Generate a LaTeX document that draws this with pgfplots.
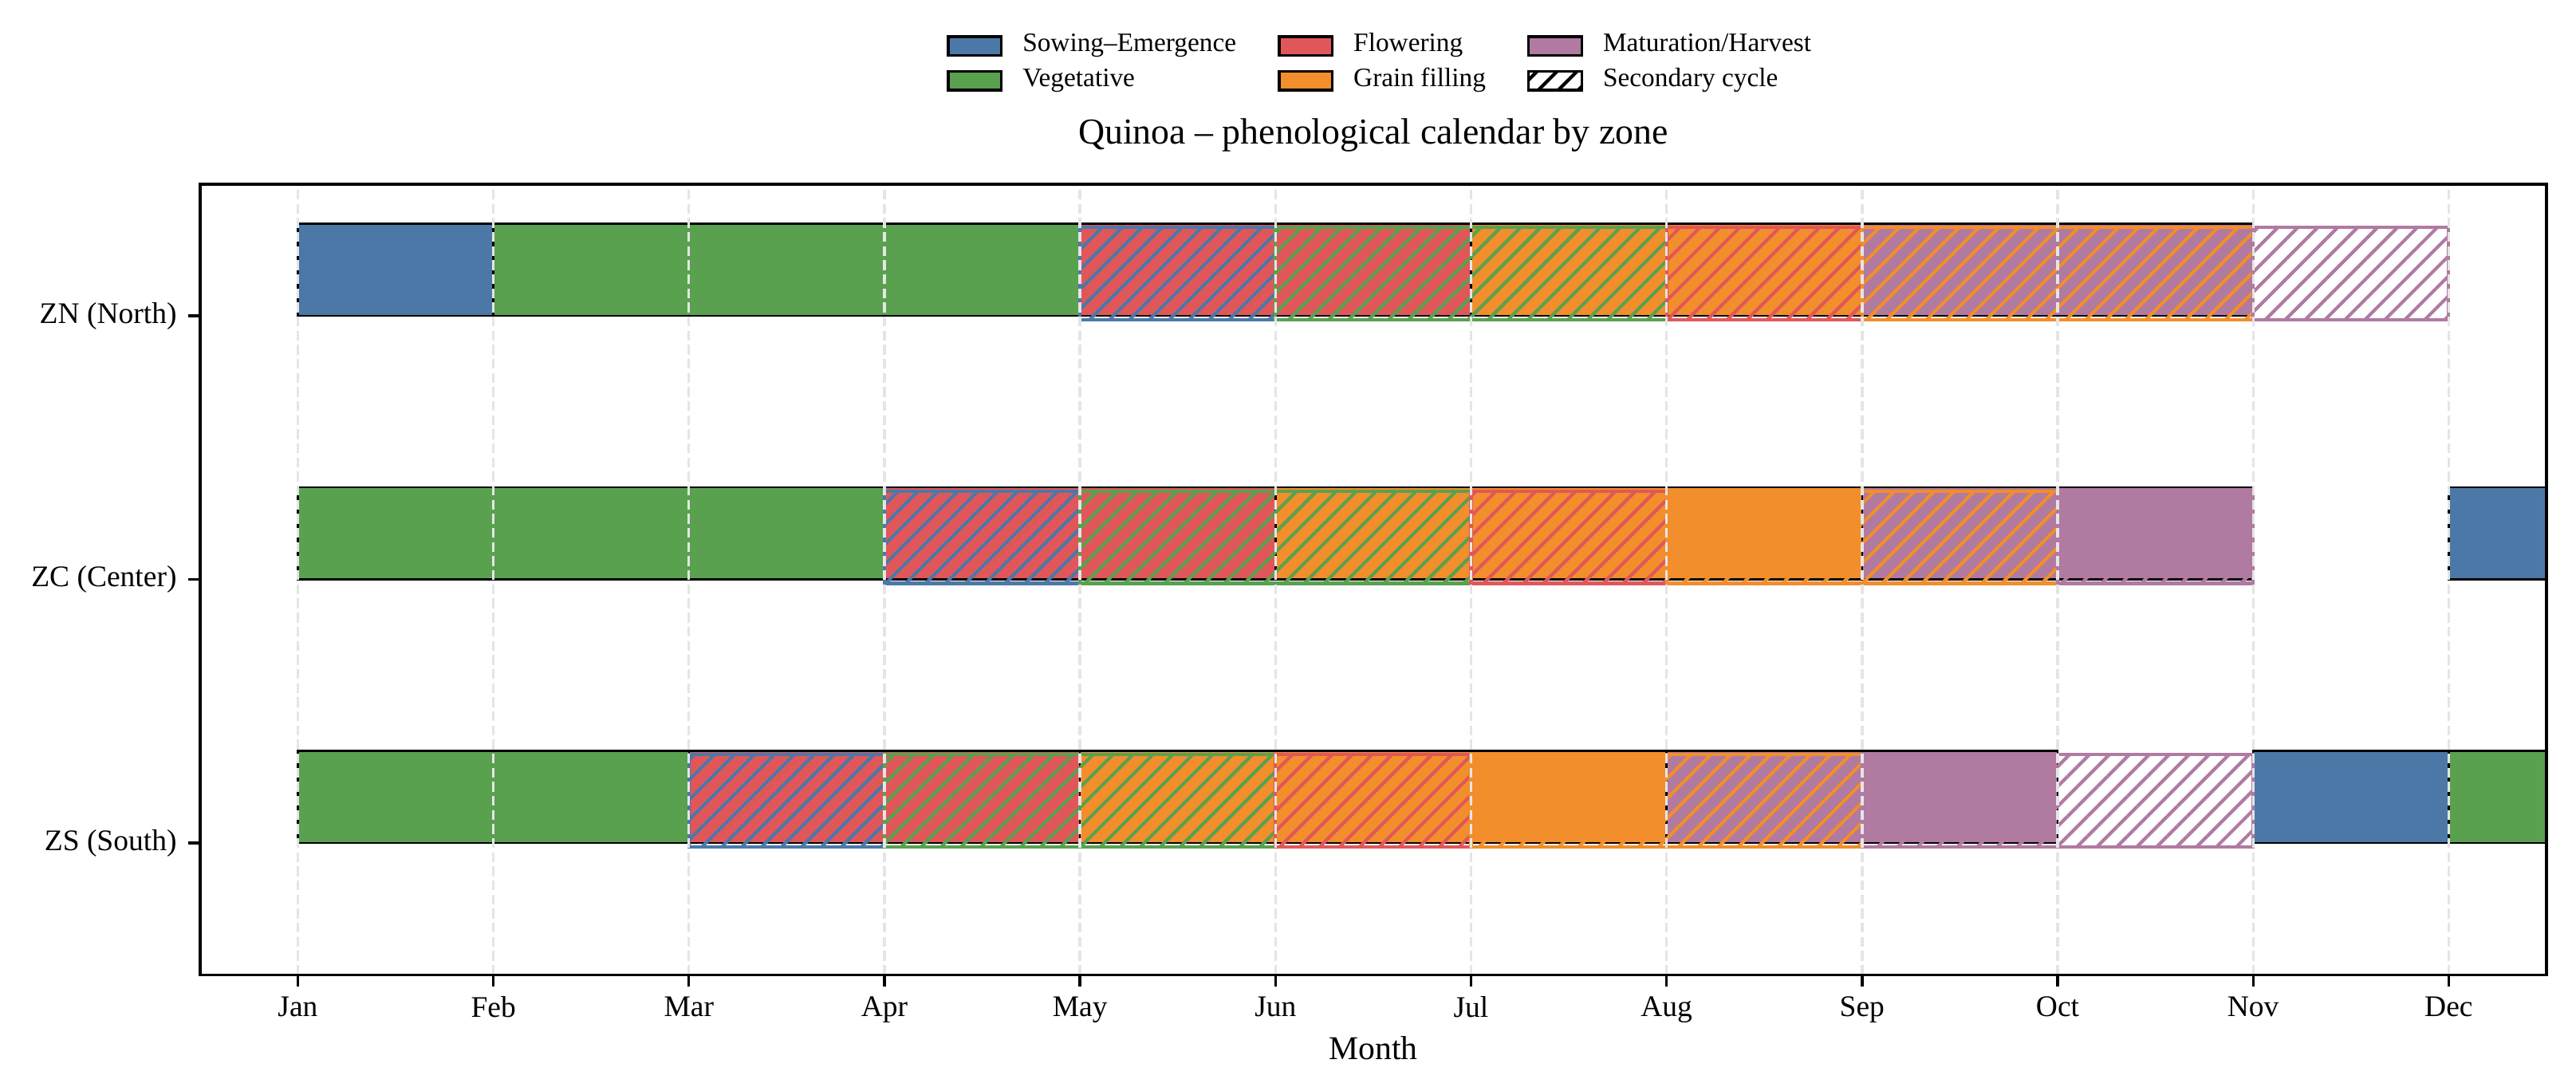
\documentclass[border=0pt]{standalone}
\usepackage{fontspec}
\setmainfont{Liberation Serif}
\usepackage{pgfplots}
\pgfplotsset{compat=1.18}
\usetikzlibrary{patterns.meta}
\definecolor{cSow}{HTML}{4C78A8}
\definecolor{cVeg}{HTML}{59A14F}
\definecolor{cFlo}{HTML}{E15759}
\definecolor{cGra}{HTML}{F28E2B}
\definecolor{cMat}{HTML}{B07AA1}
\pgfplotsset{
  mainbar/.style={draw=black, line width=0.6pt, fill=#1, forget plot},
  secbar/.style={draw=#1, line width=1pt, pattern={Lines[angle=45,distance=4.24pt,line width=1pt]}, pattern color=#1, forget plot},
}
\begin{document}
\begin{tikzpicture}
\begin{axis}[
  scale only axis, width=706pt, height=237.9pt,
  xmin=-0.5, xmax=11.5, ymin=-0.5, ymax=2.5,
  xtick={0,1,2,3,4,5,6,7,8,9,10,11},
  xticklabels={Jan,Feb,Mar,Apr,May,Jun,Jul,Aug,Sep,Oct,Nov,Dec},
  ytick={0,1,2}, yticklabels={ZS (South),ZC (Center),ZN (North)},
  tick align=outside, xtick pos=bottom, ytick pos=left,
  major tick length=3.5pt,
  tick style={black, line width=0.8pt},
  axis line style={black, line width=0.8pt},
  ticklabel style={font=\fontsize{9}{11}\selectfont},
  xticklabel style={yshift=0.5pt},
  xmajorgrids, ymajorgrids=false,
  major grid style={color=gray!20, line width=0.8pt, dash pattern=on 2.96pt off 1.28pt},
  axis on top,
  title={Quinoa – phenological calendar by zone},
  title style={font=\fontsize{11}{13}\selectfont, at={(axis description cs:0.5,1)}, anchor=base, yshift=6pt},
  xlabel={Month},
  xlabel style={font=\fontsize{10}{12}\selectfont, at={(axis description cs:0.5,0)}, anchor=base, yshift=-25.4pt},
  legend columns=3,
  legend cell align=left,
  legend image code/.code={\draw[#1] (0pt,-2.8pt) rectangle (16pt,2.8pt);},
  legend style={at={(axis description cs:0.5,1)}, anchor=center, xshift=2.5pt, yshift=36.3pt, draw=none, fill=none,
    font=\fontsize{8}{9.6}\selectfont,
    /tikz/every even column/.append style={column sep=11pt},
    /tikz/every odd column/.append style={column sep=4.5pt},
    nodes={inner sep=1.5pt, text height=5.5pt, text depth=2pt}},
]
% ---- main cycle: ZN (y=2)
\addplot[mainbar=cSow] coordinates {(0,2) (1,2) (1,2.35) (0,2.35)} -- cycle;
\addplot[mainbar=cVeg] coordinates {(1,2) (4,2) (4,2.35) (1,2.35)} -- cycle;
\addplot[mainbar=cFlo] coordinates {(4,2) (6,2) (6,2.35) (4,2.35)} -- cycle;
\addplot[mainbar=cGra] coordinates {(6,2) (8,2) (8,2.35) (6,2.35)} -- cycle;
\addplot[mainbar=cMat] coordinates {(8,2) (10,2) (10,2.35) (8,2.35)} -- cycle;
% ---- main cycle: ZC (y=1)
\addplot[mainbar=cVeg] coordinates {(0,1) (3,1) (3,1.35) (0,1.35)} -- cycle;
\addplot[mainbar=cFlo] coordinates {(3,1) (5,1) (5,1.35) (3,1.35)} -- cycle;
\addplot[mainbar=cGra] coordinates {(5,1) (8,1) (8,1.35) (5,1.35)} -- cycle;
\addplot[mainbar=cMat] coordinates {(8,1) (10,1) (10,1.35) (8,1.35)} -- cycle;
\addplot[mainbar=cSow] coordinates {(11,1) (12,1) (12,1.35) (11,1.35)} -- cycle;
% ---- main cycle: ZS (y=0)
\addplot[mainbar=cVeg] coordinates {(0,0) (2,0) (2,0.35) (0,0.35)} -- cycle;
\addplot[mainbar=cFlo] coordinates {(2,0) (4,0) (4,0.35) (2,0.35)} -- cycle;
\addplot[mainbar=cGra] coordinates {(4,0) (7,0) (7,0.35) (4,0.35)} -- cycle;
\addplot[mainbar=cMat] coordinates {(7,0) (9,0) (9,0.35) (7,0.35)} -- cycle;
\addplot[mainbar=cSow] coordinates {(10,0) (11,0) (11,0.35) (10,0.35)} -- cycle;
\addplot[mainbar=cVeg] coordinates {(11,0) (12,0) (12,0.35) (11,0.35)} -- cycle;
% ---- secondary cycle: ZN
\addplot[secbar=cSow] coordinates {(4,1.985) (5,1.985) (5,2.335) (4,2.335)} -- cycle;
\addplot[secbar=cVeg] coordinates {(5,1.985) (7,1.985) (7,2.335) (5,2.335)} -- cycle;
\addplot[secbar=cFlo] coordinates {(7,1.985) (8,1.985) (8,2.335) (7,2.335)} -- cycle;
\addplot[secbar=cGra] coordinates {(8,1.985) (10,1.985) (10,2.335) (8,2.335)} -- cycle;
\addplot[secbar=cMat] coordinates {(10,1.985) (11,1.985) (11,2.335) (10,2.335)} -- cycle;
% ---- secondary cycle: ZC
\addplot[secbar=cSow] coordinates {(3,0.985) (4,0.985) (4,1.335) (3,1.335)} -- cycle;
\addplot[secbar=cVeg] coordinates {(4,0.985) (6,0.985) (6,1.335) (4,1.335)} -- cycle;
\addplot[secbar=cFlo] coordinates {(6,0.985) (7,0.985) (7,1.335) (6,1.335)} -- cycle;
\addplot[secbar=cGra] coordinates {(7,0.985) (9,0.985) (9,1.335) (7,1.335)} -- cycle;
\addplot[secbar=cMat] coordinates {(9,0.985) (10,0.985) (10,1.335) (9,1.335)} -- cycle;
% ---- secondary cycle: ZS
\addplot[secbar=cSow] coordinates {(2,-0.015) (3,-0.015) (3,0.335) (2,0.335)} -- cycle;
\addplot[secbar=cVeg] coordinates {(3,-0.015) (5,-0.015) (5,0.335) (3,0.335)} -- cycle;
\addplot[secbar=cFlo] coordinates {(5,-0.015) (6,-0.015) (6,0.335) (5,0.335)} -- cycle;
\addplot[secbar=cGra] coordinates {(6,-0.015) (8,-0.015) (8,0.335) (6,0.335)} -- cycle;
\addplot[secbar=cMat] coordinates {(8,-0.015) (10,-0.015) (10,0.335) (8,0.335)} -- cycle;
% ---- legend (row-major order for 3 columns)
\addlegendimage{fill=cSow, draw=black, line width=0.8pt}
\addlegendentry{Sowing–Emergence}
\addlegendimage{fill=cFlo, draw=black, line width=0.8pt}
\addlegendentry{Flowering}
\addlegendimage{fill=cMat, draw=black, line width=0.8pt}
\addlegendentry{Maturation/Harvest}
\addlegendimage{fill=cVeg, draw=black, line width=0.8pt}
\addlegendentry{Vegetative}
\addlegendimage{fill=cGra, draw=black, line width=0.8pt}
\addlegendentry{Grain filling}
\addlegendimage{draw=black, line width=0.8pt, pattern={Lines[angle=45,distance=4.24pt,line width=1pt]}, pattern color=black}
\addlegendentry{Secondary cycle}
\end{axis}
\pgfresetboundingbox
\path[use as bounding box] (-60.2pt,-34.8pt) rectangle (714.9pt,293.3pt);
\end{tikzpicture}
\end{document}
